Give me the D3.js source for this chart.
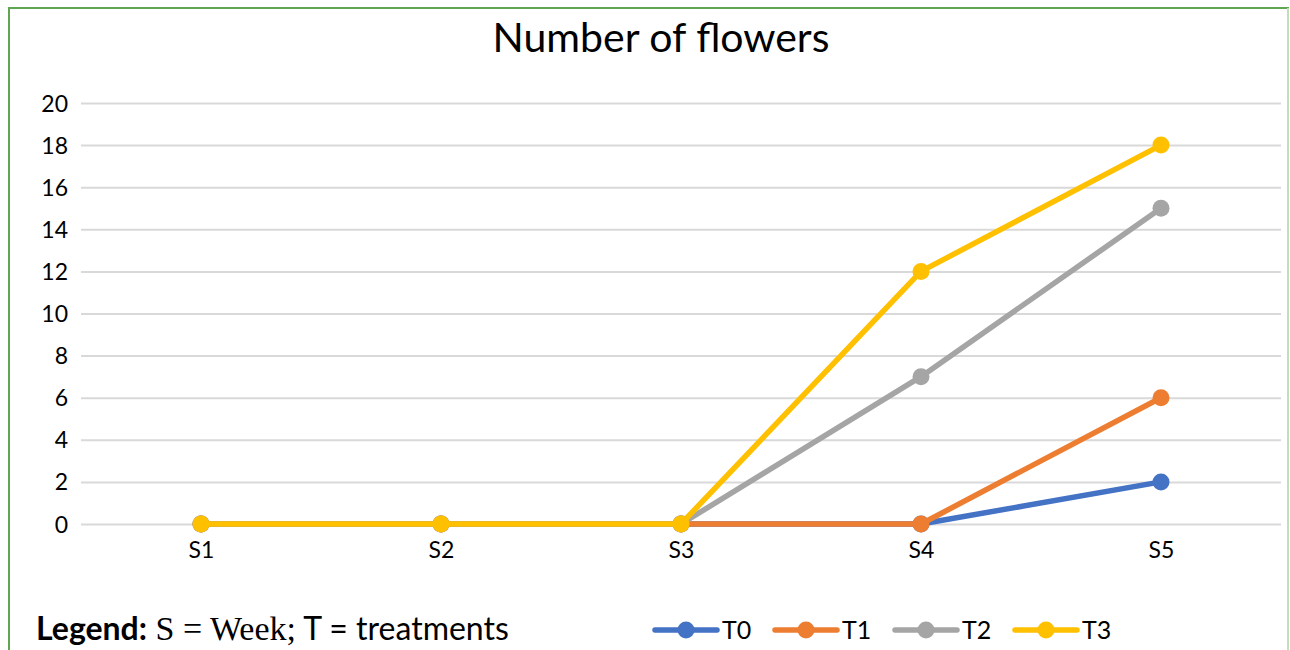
<!DOCTYPE html>
<html><head><meta charset="utf-8">
<script src="https://cdn.jsdelivr.net/npm/d3@7"></script>
<style>body{margin:0;background:#fff}svg{display:block}</style>
</head><body>
<script>
const categories = ["S1","S2","S3","S4","S5"];
const seriesNames = ["T0","T1","T2","T3"];
const T0 = [0,0,0,0,2];
const T1 = [0,0,0,0,6];
const T2 = [0,0,0,7,15];
const T3 = [0,0,0,12,18];
const yTicks = [0,2,4,6,8,10,12,14,16,18,20];
const colors = ["#4472C4","#ED7D31","#A5A5A5","#FFC000"];
const series = [T0,T1,T2,T3];

const W=1290,H=650;
const svg=d3.select("body").append("svg").attr("width",W).attr("height",H);
const font="Lato, 'Open Sans', sans-serif";

svg.append("rect").attr("x",9).attr("y",8).attr("width",1279).attr("height",700)
  .attr("fill","none").attr("stroke","#5fa552").attr("stroke-width",2);
svg.append("line").attr("x1",1288).attr("x2",1288).attr("y1",8).attr("y2",650).attr("stroke","#bfe0b8").attr("stroke-width",2);

const x=d3.scalePoint().domain(categories).range([81,1281]).padding(0.5);
const y=d3.scaleLinear().domain([0,20]).range([524,103]);

svg.append("text").attr("x",661).attr("y",52).attr("text-anchor","middle")
  .attr("font-family",font).attr("font-size",41).attr("fill","#000").text("Number of flowers");

const yAxis=d3.axisLeft(y).tickValues(yTicks).tickSize(-1200).tickFormat(d3.format("d"));
const gy=svg.append("g").attr("transform","translate(81,0)").call(yAxis);
gy.select(".domain").remove();
gy.selectAll(".tick line").attr("stroke","#d9d9d9").attr("stroke-width",2);
gy.selectAll(".tick text").attr("font-family",font).attr("font-size",23).attr("fill","#000").attr("x",-13).attr("dy","0.35em");

const xAxis=d3.axisBottom(x).tickSize(0);
const gx=svg.append("g").attr("transform","translate(0,524)").call(xAxis);
gx.select(".domain").remove();
gx.selectAll(".tick text").attr("font-family",font).attr("font-size",23).attr("fill","#000").attr("dy","1.35em");

const line=d3.line().x((d,i)=>x(categories[i])).y(d=>y(d));
series.forEach((s,k)=>{
  const g=svg.append("g");
  g.append("path").datum(s).attr("d",line).attr("fill","none").attr("stroke",colors[k])
    .attr("stroke-width",5.5).attr("stroke-linejoin","round").attr("stroke-linecap","round");
  g.selectAll("circle").data(s).join("circle").attr("cx",(d,i)=>x(categories[i])).attr("cy",d=>y(d))
    .attr("r",8.5).attr("fill",colors[k]);
});

// bottom legend note
const t=svg.append("text").attr("x",36).attr("y",640).attr("fill","#000");
t.append("tspan").attr("font-family",font).attr("font-size",32).attr("font-weight","bold").text("Legend:");
t.append("tspan").attr("font-family","'Liberation Serif', 'DejaVu Serif', serif").attr("font-size",34).text(" S = Week;");
t.append("tspan").attr("font-family",font).attr("font-size",32).text(" T = treatments");

const legX=[655,775,895,1015];
seriesNames.forEach((n,k)=>{
  const g=svg.append("g").attr("transform",`translate(${legX[k]},630)`);
  g.append("line").attr("x1",0).attr("x2",62).attr("stroke",colors[k]).attr("stroke-width",5.5).attr("stroke-linecap","round");
  g.append("circle").attr("cx",31).attr("r",8.5).attr("fill",colors[k]);
  g.append("text").attr("x",67).attr("y",0).attr("dy","0.35em").attr("font-family",font).attr("font-size",25).attr("fill","#000").text(n);
});
</script>
</body></html>
